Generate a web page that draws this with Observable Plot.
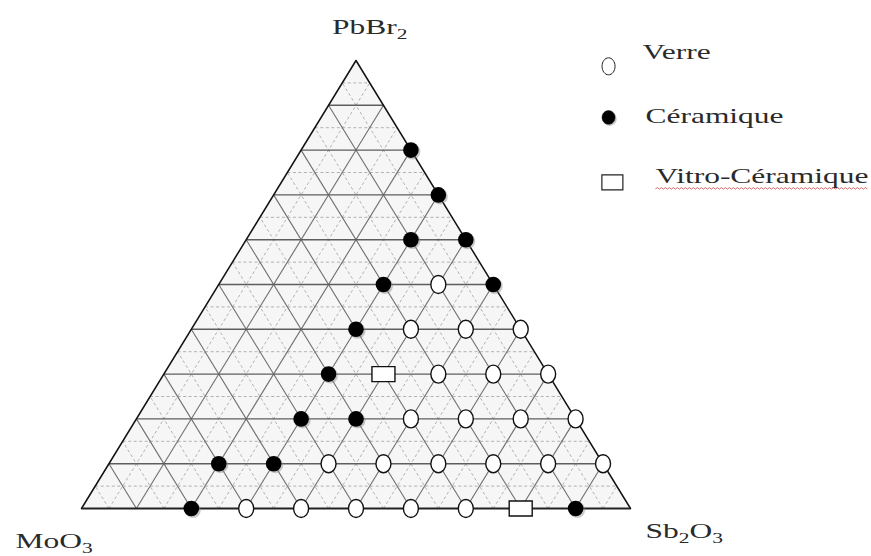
<!DOCTYPE html>
<html>
<head>
<meta charset="utf-8">
<script src="https://cdn.jsdelivr.net/npm/d3@7"></script>
<script src="https://cdn.jsdelivr.net/npm/@observablehq/plot@0.6"></script>
<style>
  html, body { margin: 0; padding: 0; background: #fff; }
  #chart { width: 871px; height: 556px; }
</style>
</head>
<body>
<div id="chart"></div>
<script>
const components = ["PbBr2", "MoO3", "Sb2O3"];          // apex, bottom-left, bottom-right
const phases = ["Verre", "Céramique", "Vitro-Céramique"];

const pbbr2 = [0, 0, 0, 0, 0, 0, 0, 0,
               10, 10, 10, 10, 10, 10, 10, 10,
               20, 20, 20, 20, 20, 20,
               30, 30, 30, 30, 30,
               40, 40, 40, 40,
               50, 50, 50,
               60, 60,
               70,
               80];
const sb2o3 = [20, 30, 40, 50, 60, 70, 80, 90,
               20, 30, 40, 50, 60, 70, 80, 90,
               30, 40, 50, 60, 70, 80,
               30, 40, 50, 60, 70,
               30, 40, 50, 60,
               30, 40, 50,
               30, 40,
               30,
               20];
const phase = ["Céramique", "Verre", "Verre", "Verre", "Verre", "Verre", "Vitro-Céramique", "Céramique",
               "Céramique", "Céramique", "Verre", "Verre", "Verre", "Verre", "Verre", "Verre",
               "Céramique", "Céramique", "Verre", "Verre", "Verre", "Verre",
               "Céramique", "Vitro-Céramique", "Verre", "Verre", "Verre",
               "Céramique", "Verre", "Verre", "Verre",
               "Céramique", "Verre", "Céramique",
               "Céramique", "Céramique",
               "Céramique",
               "Céramique"];

// grid levels (mol %)
const gridMajor = [10, 20, 30, 40, 50, 60, 70, 80, 90];
const gridMinor = [5, 15, 25, 35, 45, 55, 65, 75, 85, 95];

// ---- Ternary -> cartesian (X along base, Y = PbBr2) ----
const toX = (pb, sb) => sb + pb / 2;
const points = pbbr2.map((pb, i) => ({
  pbbr2: pb, sb2o3: sb2o3[i], moo3: 100 - pb - sb2o3[i], phase: phase[i],
  X: toX(pb, sb2o3[i]), Y: pb
}));

const vertices = [
  {name: "MoO3", X: toX(0, 0), Y: 0},
  {name: "PbBr2", X: toX(100, 0), Y: 100},
  {name: "Sb2O3", X: toX(0, 100), Y: 0}
];

function segments(levels) {
  const out = [];
  for (const k of levels) {
    out.push({dir: "h", x1: toX(k, 0), y1: k, x2: toX(k, 100 - k), y2: k});          // PbBr2 = k
    out.push({dir: "d", x1: toX(0, k), y1: 0, x2: toX(100 - k, k), y2: 100 - k});    // Sb2O3 = k
    out.push({dir: "d", x1: toX(0, 100 - k), y1: 0, x2: toX(100 - k, 0), y2: 100 - k}); // MoO3 = k
  }
  return out;
}
const major = segments(gridMajor);
const minor = segments(gridMinor);

// ---- symbols ----
const ellipse = (rx, ry) => ({
  draw(ctx) {
    const k = 0.5523;
    ctx.moveTo(rx, 0);
    ctx.bezierCurveTo(rx, k * ry, k * rx, ry, 0, ry);
    ctx.bezierCurveTo(-k * rx, ry, -rx, k * ry, -rx, 0);
    ctx.bezierCurveTo(-rx, -k * ry, -k * rx, -ry, 0, -ry);
    ctx.bezierCurveTo(k * rx, -ry, rx, -k * ry, rx, 0);
    ctx.closePath();
  }
});
const box = (w, h) => ({
  draw(ctx) {
    ctx.moveTo(-w / 2, -h / 2); ctx.lineTo(w / 2, -h / 2);
    ctx.lineTo(w / 2, h / 2); ctx.lineTo(-w / 2, h / 2); ctx.closePath();
  }
});

const FONT = "Liberation Serif, Times New Roman, serif";
const STRETCH = 1.43;

// legend layout in chart units
const legendLayout = [
  {X: 96.0, Y: 98.7, dx: 34, dy: -7},
  {X: 96.0, Y: 87.3, dx: 37, dy: 6},
  {X: 96.7, Y: 72.8, dx: 43, dy: 1}
];
const legendSymbols = {
  "Verre": {symbol: ellipse(6.5, 8.5), fill: "white", stroke: "#222", strokeWidth: 1},
  "Céramique": {symbol: ellipse(6.5, 6.8), fill: "black", stroke: "black", strokeWidth: 0.5},
  "Vitro-Céramique": {symbol: box(21, 15), fill: "white", stroke: "#222", strokeWidth: 1.2}
};

const vertexOffsets = {PbBr2: [-24, -27], MoO3: [-66, 39], Sb2O3: [15, 29]};

const marks = [
  Plot.areaY(vertices, {x: "X", y: "Y", fill: "#f6f6f6"}),
  Plot.link(minor, {x1: "x1", y1: "y1", x2: "x2", y2: "y2", stroke: "#a0a0a0", strokeWidth: 0.8, strokeDasharray: "3,2.5"}),
  Plot.link(major.filter(d => d.dir === "d"), {x1: "x1", y1: "y1", x2: "x2", y2: "y2", stroke: "#6e6e6e", strokeWidth: 1.1}),
  Plot.link(major.filter(d => d.dir === "h"), {x1: "x1", y1: "y1", x2: "x2", y2: "y2", stroke: "#5e5e5e", strokeWidth: 1.4}),
  Plot.line([vertices[0], vertices[1], vertices[2]], {x: "X", y: "Y", stroke: "#111", strokeWidth: 1.5}),
  Plot.link([vertices[0]], {x1: "X", y1: "Y", x2: () => vertices[2].X, y2: () => vertices[2].Y, stroke: "#222", strokeWidth: 2}),
  // shadows for filled dots
  Plot.dot(points.filter(d => d.phase === "Céramique"), {x: "X", y: "Y", dx: 1.5, dy: 1.5, r: 8, fill: "#888", fillOpacity: 0.45}),
  Plot.dot(points.filter(d => d.phase === "Céramique"), {x: "X", y: "Y", r: 7.8, fill: "black"}),
  Plot.dot(points.filter(d => d.phase === "Verre"), {x: "X", y: "Y", symbol: ellipse(7.5, 9), fill: "white", stroke: "#111", strokeWidth: 1.4}),
  Plot.dot(points.filter(d => d.phase === "Vitro-Céramique"), {x: "X", y: "Y", symbol: box(23, 15), fill: "white", stroke: "#111", strokeWidth: 1.4})
];

// vertex labels
for (const v of vertices) {
  const [dx, dy] = vertexOffsets[v.name];
  marks.push(Plot.text([v], {x: "X", y: "Y", text: "name", dx, dy, textAnchor: "start", lineAnchor: "bottom",
    fontFamily: FONT, fontSize: 22, fill: "#2a2a2a"}));
}
// legend
phases.forEach((p, i) => {
  const L = legendLayout[i], S = legendSymbols[p];
  if (p === "Céramique") marks.push(Plot.dot([L], {x: "X", y: "Y", dx: 1.2, dy: 1.5, r: 7, fill: "#888", fillOpacity: 0.45}));
  marks.push(Plot.dot([L], {x: "X", y: "Y", ...S}));
  marks.push(Plot.text([p], {x: () => L.X, y: () => L.Y, text: d => d, dx: L.dx, dy: L.dy, textAnchor: "start", lineAnchor: "bottom",
    fontFamily: FONT, fontSize: 22, fill: "#2a2a2a"}));
});

const chart = Plot.plot({
  width: 871, height: 556, margin: 0,
  x: {domain: [0, 100], range: [81, 630], axis: null},
  y: {domain: [0, 100], range: [508, 60], axis: null},
  style: {background: "white", overflow: "visible"},
  marks
});
document.getElementById("chart").append(chart);

// subscripts + horizontal stretch of the scanned-looking serif text
d3.select(chart).selectAll("text").each(function () {
  const str = this.textContent;
  this.textContent = "";
  const parts = str.split(/(\d+)/).filter(s => s.length);
  let sub = false;
  for (const part of parts) {
    const t = document.createElementNS("http://www.w3.org/2000/svg", "tspan");
    t.textContent = part;
    if (/^\d+$/.test(part)) {
      t.setAttribute("font-size", 15);
      t.setAttribute("dy", 5);
      sub = true;
    } else if (sub) {
      t.setAttribute("dy", -5);
      sub = false;
    }
    this.appendChild(t);
  }
  const w = this.getComputedTextLength();
  const stretched = w * STRETCH;
  this.setAttribute("textLength", stretched.toFixed(1));
  this.setAttribute("lengthAdjust", "spacingAndGlyphs");
  if (str === "Vitro-Céramique") {
    // spell-check style wavy underline under the label
    const path = d3.path();
    const step = 2;
    path.moveTo(0, 5.5);
    for (let x = step, up = true; x <= stretched; x += step, up = !up) path.lineTo(x, up ? 4.3 : 5.7);
    d3.select(this.parentNode).append("path")
      .attr("transform", this.getAttribute("transform"))
      .attr("d", path.toString())
      .attr("fill", "none").attr("stroke", "#d04a4a").attr("stroke-width", 0.8);
  }
});
</script>
</body>
</html>
